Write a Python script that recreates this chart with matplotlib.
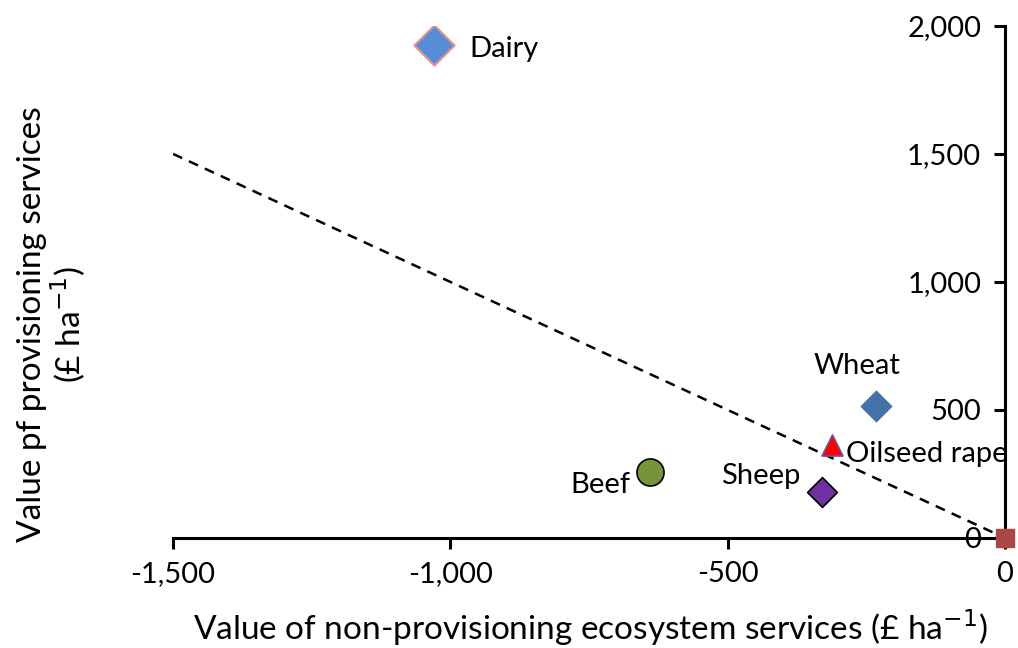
import numpy as np
import matplotlib.pyplot as plt

plt.rcParams['font.family'] = ['Lato', 'DejaVu Sans']
plt.rcParams['axes.unicode_minus'] = False

# data
names = ['Dairy', 'Wheat', 'Oilseed rape', 'Sheep', 'Beef', 'Origin']
x_vals = [-1030, -232, -312, -330, -640, 0]
y_vals = [1925, 515, 362, 180, 258, 0]
line_x = [-1500, 0]
line_y = [1500, 0]

fig = plt.figure(figsize=(10.18, 6.48), dpi=100)
ax = fig.add_axes([0.170, 0.170, 0.817, 0.790])

ax.plot(line_x, line_y, 'k--', lw=1.8, dashes=(4, 3), zorder=1)

# markers
ax.scatter(x_vals[0], y_vals[0], marker='D', s=420, c='#558ED5', edgecolors='#E6928F', linewidths=1.5, zorder=3)
ax.scatter(x_vals[1], y_vals[1], marker='D', s=240, c='#4472A8', edgecolors='#4472A8', zorder=3)
ax.scatter(x_vals[2], y_vals[2], marker='^', s=230, c='#FF0000', edgecolors='#7050A0', linewidths=1.2, zorder=3)
ax.scatter(x_vals[3], y_vals[3], marker='D', s=230, c='#7030A0', edgecolors='black', linewidths=1.2, zorder=3)
ax.scatter(x_vals[4], y_vals[4], marker='o', s=380, c='#77933C', edgecolors='black', linewidths=1.2, zorder=3)
ax.scatter(x_vals[5], y_vals[5], marker='s', s=150, c='#AA4643', zorder=4, clip_on=False)

fs = 21
ax.text(x_vals[0] + 65, y_vals[0] - 15, 'Dairy', fontsize=fs, ha='left', va='center')
ax.text(x_vals[1] - 35, y_vals[1] + 155, 'Wheat', fontsize=fs, ha='center', va='center')
ax.text(x_vals[2] + 25, y_vals[2] - 35, 'Oilseed rape', fontsize=fs, ha='left', va='center')
ax.text(x_vals[3] - 110, y_vals[3] + 60, 'Sheep', fontsize=fs, ha='center', va='center')
ax.text(x_vals[4] - 35, y_vals[4] - 50, 'Beef', fontsize=fs, ha='right', va='center')

ax.set_xlim(-1500, 0)
ax.set_ylim(0, 2000)
ax.spines['left'].set_position(('data', 0))
ax.spines['bottom'].set_position(('data', 0))
ax.spines['top'].set_visible(False)
ax.spines['right'].set_visible(False)
for s in ['left', 'bottom']:
    ax.spines[s].set_linewidth(2.2)
ax.set_xticks([-1500, -1000, -500, 0])
ax.set_yticks([0, 500, 1000, 1500, 2000])
ax.set_xticklabels(['-1,500', '-1,000', '-500', '0'])
ax.set_yticklabels(['0', '500', '1,000', '1,500', '2,000'])
ax.tick_params(axis='both', direction='out', length=8, width=2.2, labelsize=fs, pad=9)

fig.text(0.58, 0.032, 'Value of non-provisioning ecosystem services (£ ha$^{-1}$)', fontsize=24, ha='center', va='center')
fig.text(0.052, 0.50, 'Value pf provisioning services\n(£ ha$^{-1}$)', fontsize=24, ha='center', va='center', rotation=90, linespacing=1.05)

fig.savefig('out.png', dpi=100)
